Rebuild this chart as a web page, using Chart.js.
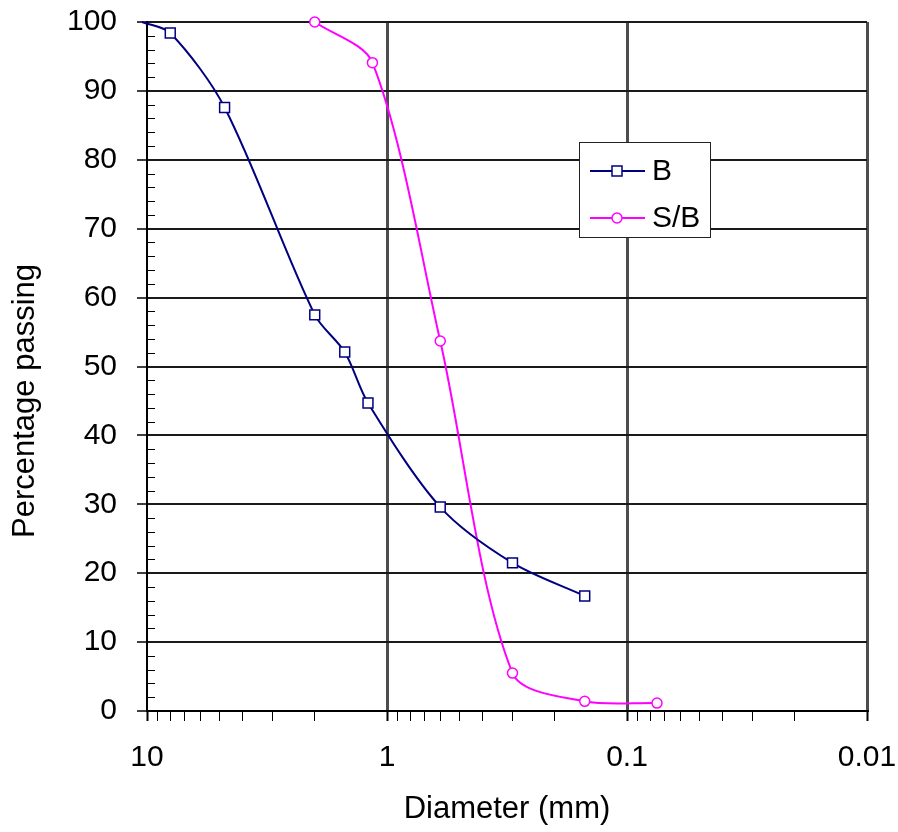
<!DOCTYPE html>
<html>
<head>
<meta charset="utf-8">
<title>Percentage passing vs diameter</title>
<script src="https://cdn.jsdelivr.net/npm/chart.js@4/dist/chart.umd.min.js"></script>
<style>
  html, body { margin: 0; padding: 0; background: #fff; }
  canvas { display: block; }
</style>
</head>
<body>
<canvas id="gradation" width="898" height="832"></canvas>
<script>
// Sieve size (mm) and percentage passing
const sizesB = [10.5, 8, 4.75, 2, 1.5, 1.2, 0.6, 0.3, 0.15];
const passingB = [100, 98.4, 87.6, 57.5, 52.1, 44.7, 29.6, 21.5, 16.7];
const markerB = [0, 7, 7, 7, 7, 7, 7, 7, 7];   // first point has no marker

const sizesSB = [2, 1.15, 0.6, 0.3, 0.15, 0.075];
const passingSB = [100, 94.1, 53.7, 5.5, 1.4, 1.15];

// axis ticks
const xDecades = [10, 1, 0.1, 0.01];
const xTickLabels = ['10', '1', '0.1', '0.01'];
const xMultiples = [1, 2, 3, 4, 5, 6, 7, 8, 9];
const yStep = 10;
const yMinorStep = 2;

const FONT = '"Liberation Sans", Arial, sans-serif';

function xTickValues() {
    const vals = [];
    [0.01, 0.1, 1].forEach(d => {
        xMultiples.forEach(m => vals.push(+(m * d).toPrecision(3)));
    });
    vals.push(10);
    return vals.map(v => ({ value: v }));
}

function isDecade(ctx) {
    return ctx.tick && xDecades.includes(ctx.tick.value);
}

// minor y ticks drawn inside the plot, legend box and rotated y title
const extras = {
    id: 'extras',
    beforeDatasetsDraw(chart) {
        const c = chart.ctx;
        const y = chart.scales.y;
        const left = chart.chartArea.left;
        c.save();
        c.strokeStyle = '#000';
        c.lineWidth = 1;
        for (let v = 0; v <= 100; v += yMinorStep) {
            if (v % yStep === 0) continue;
            const py = Math.round(y.getPixelForValue(v)) + 0.5;
            c.beginPath();
            c.moveTo(left, py);
            c.lineTo(left + 8, py);
            c.stroke();
        }
        c.restore();
    },
    afterDraw(chart) {
        const c = chart.ctx;
        c.save();
        // y axis title
        c.translate(25, 401);
        c.rotate(-Math.PI / 2);
        c.font = '31px ' + FONT;
        c.fillStyle = '#000';
        c.textAlign = 'center';
        c.textBaseline = 'middle';
        c.fillText('Percentage passing', 0, 0);
        c.restore();

        // legend
        c.save();
        c.fillStyle = '#fff';
        c.fillRect(579, 142, 132, 96);
        c.strokeStyle = '#222';
        c.lineWidth = 1;
        c.strokeRect(579.5, 142.5, 131, 95);
        const rows = [171, 218];
        chart.data.datasets.forEach((ds, i) => {
            const ry = rows[i];
            c.strokeStyle = ds.borderColor;
            c.lineWidth = 2;
            c.beginPath();
            c.moveTo(590, ry);
            c.lineTo(645, ry);
            c.stroke();
            c.fillStyle = '#fff';
            c.lineWidth = 1.5;
            c.beginPath();
            if (ds.pointStyle === 'rect') c.rect(612, ry - 5, 10, 10);
            else c.arc(617, ry, 5, 0, Math.PI * 2);
            c.fill();
            c.stroke();
            c.fillStyle = '#000';
            c.font = '30px ' + FONT;
            c.textAlign = 'left';
            c.textBaseline = 'middle';
            c.fillText(ds.label, 652, ry + 1);
        });
        c.restore();
    }
};

const ctx = document.getElementById('gradation').getContext('2d');
new Chart(ctx, {
    type: 'line',
    data: {
        datasets: [{
            label: 'B',
            data: sizesB.map((s, i) => ({ x: s, y: passingB[i] })),
            borderColor: '#000080',
            borderWidth: 2,
            pointStyle: 'rect',
            pointRadius: markerB,
            pointBorderWidth: 1.5,
            pointBackgroundColor: '#fff',
            pointBorderColor: '#000080',
            tension: 0.3,
            fill: false,
            clip: false
        }, {
            label: 'S/B',
            data: sizesSB.map((s, i) => ({ x: s, y: passingSB[i] })),
            borderColor: '#ff00ff',
            borderWidth: 2,
            pointStyle: 'circle',
            pointRadius: 5,
            pointBorderWidth: 1.5,
            pointBackgroundColor: '#fff',
            pointBorderColor: '#ff00ff',
            tension: 0.3,
            fill: false,
            clip: false
        }]
    },
    options: {
        responsive: false,
        animation: false,
        layout: {
            padding: { top: 22, right: 31, left: 0, bottom: 0 }
        },
        plugins: {
            legend: { display: false },
            tooltip: { enabled: false }
        },
        scales: {
            x: {
                type: 'logarithmic',
                reverse: true,
                min: 0.01,
                max: 10,
                afterBuildTicks: scale => { scale.ticks = xTickValues(); },
                afterFit: scale => {
                    scale.height = 121;
                    scale.paddingLeft = 0;
                    scale.paddingRight = 0;
                },
                grid: {
                    color: c => (isDecade(c) && c.tick.value !== 10) ? '#4d4d4d' : 'rgba(0,0,0,0)',
                    lineWidth: c => isDecade(c) ? 3 : 1,
                    tickColor: '#000',
                    tickWidth: c => isDecade(c) ? 2 : 1,
                    tickLength: 10
                },
                border: { color: '#000', width: 2 },
                ticks: {
                    autoSkip: false,
                    maxRotation: 0,
                    padding: 19,
                    color: '#000',
                    font: { family: FONT, size: 30 },
                    callback: value => {
                        const i = xDecades.indexOf(value);
                        return i >= 0 ? xTickLabels[i] : '';
                    }
                },
                title: {
                    display: true,
                    text: 'Diameter (mm)',
                    color: '#000',
                    font: { family: FONT, size: 31 },
                    padding: { top: 0, bottom: 4 }
                }
            },
            y: {
                min: 0,
                max: 100,
                afterFit: scale => {
                    scale.width = 147;
                    scale.paddingTop = 0;
                    scale.paddingBottom = 0;
                },
                grid: {
                    color: '#1a1a1a',
                    lineWidth: 2,
                    tickColor: '#000',
                    tickWidth: 1.5,
                    tickLength: 10
                },
                border: { color: '#000', width: 2 },
                ticks: {
                    stepSize: yStep,
                    padding: 20,
                    color: '#000',
                    font: { family: FONT, size: 30 }
                }
            }
        }
    },
    plugins: [extras]
});
</script>
</body>
</html>
